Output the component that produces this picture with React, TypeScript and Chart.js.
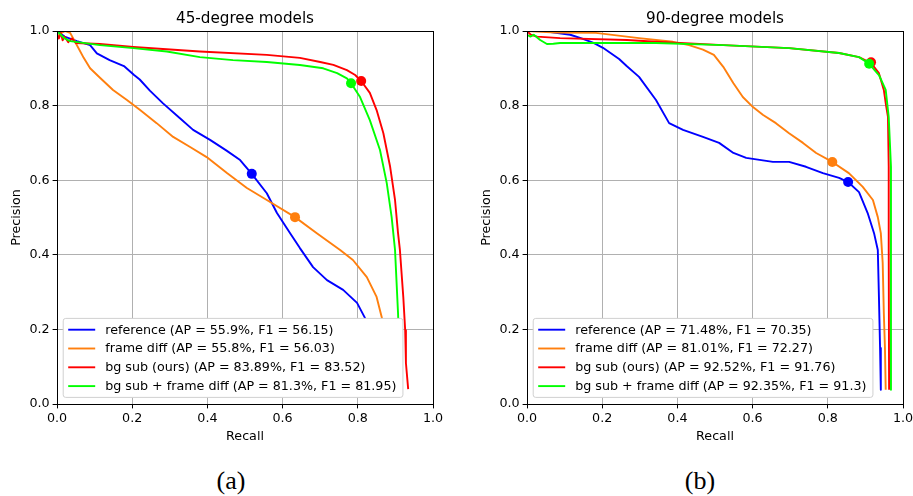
import React, { useEffect, useRef } from "react";
import { Chart, registerables } from "chart.js";

Chart.register(...registerables);

const FONT = "'DejaVu Sans', 'Liberation Sans', sans-serif";
const FS = 12.7;

const axisTicks = [0, 0.2, 0.4, 0.6, 0.8, 1.0];
const seriesColors = ["#0000ff", "#ff7f0e", "#ff0000", "#00ff00"];

// ---------- 45-degree models ----------
const title45 = "45-degree models";
const labels45 = [
  "reference (AP = 55.9%, F1 = 56.15)",
  "frame diff (AP = 55.8%, F1 = 56.03)",
  "bg sub (ours) (AP = 83.89%, F1 = 83.52)",
  "bg sub + frame diff (AP = 81.3%, F1 = 81.95)",
];
const ref45Recall = [0, 0.02, 0.053, 0.088, 0.106, 0.14, 0.178, 0.205, 0.22, 0.247, 0.282, 0.327, 0.362, 0.407, 0.45, 0.487, 0.518, 0.558, 0.585, 0.62, 0.646, 0.681, 0.718, 0.761, 0.798, 0.819, 0.835, 0.84];
const ref45Precision = [1.0, 0.985, 0.973, 0.962, 0.94, 0.922, 0.906, 0.882, 0.87, 0.84, 0.806, 0.766, 0.735, 0.708, 0.68, 0.654, 0.617, 0.565, 0.512, 0.458, 0.418, 0.367, 0.332, 0.306, 0.271, 0.231, 0.15, 0.04];
const ref45Best = [0.518, 0.617];

const fd45Recall = [0, 0.012, 0.022, 0.035, 0.053, 0.071, 0.088, 0.115, 0.149, 0.186, 0.221, 0.265, 0.309, 0.354, 0.398, 0.452, 0.505, 0.558, 0.633, 0.691, 0.753, 0.787, 0.824, 0.85, 0.864, 0.87, 0.875];
const fd45Precision = [0.985, 0.995, 1.0, 0.995, 0.962, 0.928, 0.9, 0.874, 0.842, 0.815, 0.788, 0.753, 0.716, 0.689, 0.662, 0.619, 0.579, 0.547, 0.501, 0.458, 0.413, 0.386, 0.34, 0.287, 0.231, 0.15, 0.04];
const fd45Best = [0.633, 0.501];

const bg45Recall = [0, 0.005, 0.01, 0.015, 0.02, 0.03, 0.04, 0.05, 0.114, 0.203, 0.38, 0.558, 0.646, 0.7, 0.735, 0.771, 0.793, 0.809, 0.832, 0.85, 0.868, 0.886, 0.899, 0.907, 0.912, 0.921, 0.926, 0.928, 0.934];
const bg45Precision = [0.99, 0.98, 0.995, 0.975, 0.985, 0.97, 0.98, 0.968, 0.965, 0.957, 0.945, 0.936, 0.928, 0.917, 0.909, 0.895, 0.882, 0.866, 0.834, 0.788, 0.726, 0.636, 0.547, 0.458, 0.413, 0.287, 0.198, 0.11, 0.04];
const bg45Best = [0.809, 0.866];

const bgfd45Recall = [0, 0.01, 0.02, 0.035, 0.114, 0.203, 0.292, 0.38, 0.468, 0.558, 0.646, 0.708, 0.745, 0.771, 0.782, 0.806, 0.832, 0.859, 0.877, 0.89, 0.899, 0.907, 0.91, 0.912];
const bgfd45Precision = [1.0, 0.99, 0.98, 0.973, 0.962, 0.954, 0.945, 0.93, 0.922, 0.917, 0.909, 0.9, 0.887, 0.873, 0.86, 0.823, 0.761, 0.681, 0.592, 0.501, 0.413, 0.244, 0.15, 0.04];
const bgfd45Best = [0.782, 0.86];

// ---------- 90-degree models ----------
const title90 = "90-degree models";
const labels90 = [
  "reference (AP = 71.48%, F1 = 70.35)",
  "frame diff (AP = 81.01%, F1 = 72.27)",
  "bg sub (ours) (AP = 92.52%, F1 = 91.76)",
  "bg sub + frame diff (AP = 92.35%, F1 = 91.3)",
];
const ref90Recall = [0, 0.044, 0.077, 0.115, 0.145, 0.177, 0.202, 0.245, 0.265, 0.298, 0.343, 0.378, 0.415, 0.468, 0.511, 0.549, 0.583, 0.654, 0.697, 0.742, 0.787, 0.83, 0.854, 0.883, 0.906, 0.923, 0.933, 0.936, 0.939, 0.941];
const ref90Precision = [1.0, 1.0, 0.995, 0.99, 0.98, 0.968, 0.955, 0.925, 0.906, 0.877, 0.815, 0.753, 0.735, 0.716, 0.7, 0.673, 0.66, 0.649, 0.649, 0.636, 0.619, 0.606, 0.595, 0.568, 0.512, 0.458, 0.413, 0.287, 0.15, 0.038];
const ref90Best = [0.854, 0.595];

const fd90Recall = [0, 0.077, 0.183, 0.298, 0.388, 0.431, 0.468, 0.497, 0.522, 0.549, 0.574, 0.601, 0.628, 0.662, 0.697, 0.734, 0.769, 0.812, 0.856, 0.893, 0.92, 0.933, 0.941, 0.946, 0.949, 0.952, 0.954];
const fd90Precision = [1.0, 0.996, 0.995, 0.981, 0.971, 0.962, 0.95, 0.936, 0.904, 0.86, 0.823, 0.796, 0.775, 0.753, 0.726, 0.7, 0.673, 0.649, 0.619, 0.582, 0.547, 0.501, 0.458, 0.378, 0.244, 0.15, 0.038];
const fd90Best = [0.812, 0.649];

const bg90Recall = [0, 0.01, 0.027, 0.088, 0.266, 0.343, 0.522, 0.697, 0.83, 0.883, 0.915, 0.936, 0.949, 0.955, 0.96, 0.962, 0.962, 0.963];
const bg90Precision = [1.0, 0.99, 0.985, 0.981, 0.976, 0.971, 0.962, 0.954, 0.941, 0.93, 0.914, 0.887, 0.842, 0.8, 0.77, 0.636, 0.413, 0.038];
const bg90Best = [0.915, 0.916];

const bgfd90Recall = [0, 0.009, 0.018, 0.035, 0.053, 0.07, 0.088, 0.165, 0.343, 0.522, 0.697, 0.83, 0.883, 0.91, 0.936, 0.954, 0.962, 0.968, 0.968];
const bgfd90Precision = [0.99, 0.985, 0.99, 0.976, 0.965, 0.966, 0.968, 0.968, 0.968, 0.962, 0.954, 0.941, 0.93, 0.912, 0.882, 0.842, 0.77, 0.636, 0.038];
const bgfd90Best = [0.91, 0.912];

type Series = { label: string; color: string; r: number[]; p: number[]; best: number[] };

const series45: Series[] = [
  { label: labels45[0], color: seriesColors[0], r: ref45Recall, p: ref45Precision, best: ref45Best },
  { label: labels45[1], color: seriesColors[1], r: fd45Recall, p: fd45Precision, best: fd45Best },
  { label: labels45[2], color: seriesColors[2], r: bg45Recall, p: bg45Precision, best: bg45Best },
  { label: labels45[3], color: seriesColors[3], r: bgfd45Recall, p: bgfd45Precision, best: bgfd45Best },
];
const series90: Series[] = [
  { label: labels90[0], color: seriesColors[0], r: ref90Recall, p: ref90Precision, best: ref90Best },
  { label: labels90[1], color: seriesColors[1], r: fd90Recall, p: fd90Precision, best: fd90Best },
  { label: labels90[2], color: seriesColors[2], r: bg90Recall, p: bg90Precision, best: bg90Best },
  { label: labels90[3], color: seriesColors[3], r: bgfd90Recall, p: bgfd90Precision, best: bgfd90Best },
];

function align(v: number) {
  return Math.round(v - 0.5) + 0.5;
}

function makeDecor(title: string, series: Series[]) {
  return {
    id: "decor",
    afterDatasetsDraw(chart: any) {
      const { ctx, chartArea: a } = chart;
      ctx.save();
      // spines
      ctx.strokeStyle = "#000";
      ctx.lineWidth = 1;
      ctx.strokeRect(align(a.left), align(a.top), align(a.right) - align(a.left), align(a.bottom) - align(a.top));

      // title
      ctx.fillStyle = "#000";
      ctx.font = `15.2px ${FONT}`;
      ctx.textAlign = "center";
      ctx.textBaseline = "alphabetic";
      ctx.fillText(title, (a.left + a.right) / 2, a.top - 7.6);

      // legend (lower left)
      ctx.font = `${FS}px ${FONT}`;
      let maxW = 0;
      series.forEach((s) => {
        maxW = Math.max(maxW, ctx.measureText(s.label).width);
      });
      const rowH = 18.8;
      const edgePad = 11.3;
      const bw = 42 + maxW + 6.5;
      const bh = rowH * (series.length - 1) + edgePad * 2;
      const bx = a.left + 6.2;
      const by = a.bottom - 6.6 - bh;
      const rad = 2.5;
      ctx.beginPath();
      ctx.moveTo(bx + rad, by);
      ctx.lineTo(bx + bw - rad, by);
      ctx.arcTo(bx + bw, by, bx + bw, by + rad, rad);
      ctx.lineTo(bx + bw, by + bh - rad);
      ctx.arcTo(bx + bw, by + bh, bx + bw - rad, by + bh, rad);
      ctx.lineTo(bx + rad, by + bh);
      ctx.arcTo(bx, by + bh, bx, by + bh - rad, rad);
      ctx.lineTo(bx, by + rad);
      ctx.arcTo(bx, by, bx + rad, by, rad);
      ctx.closePath();
      ctx.fillStyle = "#ffffff";
      ctx.fill();
      ctx.strokeStyle = "#d0d0d0";
      ctx.lineWidth = 1;
      ctx.stroke();

      series.forEach((s, i) => {
        const y = by + edgePad + i * rowH;
        ctx.strokeStyle = s.color;
        ctx.lineWidth = 1.9;
        ctx.beginPath();
        ctx.moveTo(bx + 5, y);
        ctx.lineTo(bx + 32, y);
        ctx.stroke();
        ctx.fillStyle = "#000";
        ctx.textAlign = "left";
        ctx.textBaseline = "middle";
        ctx.fillText(s.label, bx + 42, y + 0.5);
      });
      ctx.restore();
    },
  };
}

function PRChart(props: { title: string; series: Series[]; width: number; height: number; padLeft: number; padRight: number }) {
  const ref = useRef<HTMLCanvasElement>(null);
  useEffect(() => {
    const canvas = ref.current;
    if (!canvas) return;
    const { series } = props;
    const datasets: any[] = [];
    series.forEach((s, k) => {
      datasets.push({
        data: s.r.map((x, i) => ({ x, y: s.p[i] })),
        showLine: true,
        borderColor: s.color,
        backgroundColor: s.color,
        borderWidth: 1.9,
        pointRadius: 0,
        pointHoverRadius: 0,
        tension: 0,
        fill: false,
        borderJoinStyle: "round",
        order: 20 - 2 * k,
      });
      datasets.push({
        data: [{ x: s.best[0], y: s.best[1] }],
        showLine: false,
        pointRadius: 5,
        pointHoverRadius: 5,
        pointBorderWidth: 0,
        pointBackgroundColor: s.color,
        borderColor: s.color,
        order: 19 - 2 * k,
      });
    });
    const tickFont = { family: FONT, size: FS };
    const gridCfg = { color: "#b0b0b0", lineWidth: 1, tickColor: "#000", tickLength: 4.4, drawTicks: true };
    const chart = new Chart(canvas, {
      type: "scatter",
      data: { datasets },
      options: {
        animation: false,
        responsive: false,
        events: [],
        layout: { padding: { left: props.padLeft, right: props.padRight, top: 31, bottom: 0 } },
        plugins: { legend: { display: false }, title: { display: false }, tooltip: { enabled: false } },
        scales: {
          x: {
            type: "linear",
            min: 0,
            max: 1,
            afterBuildTicks: (s: any) => {
              s.ticks = axisTicks.map((v) => ({ value: v }));
            },
            afterFit: (s: any) => {
              s.height = 46;
            },
            ticks: { color: "#000", font: tickFont, padding: 3, maxRotation: 0, autoSkip: false, callback: (v: any) => Number(v).toFixed(1) },
            grid: gridCfg,
            border: { color: "#000", width: 1 },
            title: { display: true, text: "Recall", color: "#000", font: tickFont, padding: { top: 0, bottom: 5.5 } },
          },
          y: {
            type: "linear",
            min: 0,
            max: 1,
            afterBuildTicks: (s: any) => {
              s.ticks = axisTicks.map((v) => ({ value: v }));
            },
            afterFit: (s: any) => {
              s.width = 57;
            },
            ticks: { color: "#000", font: tickFont, padding: 3, autoSkip: false, callback: (v: any) => Number(v).toFixed(1) },
            grid: gridCfg,
            border: { color: "#000", width: 1 },
            title: { display: true, text: "Precision", color: "#000", font: tickFont, padding: { top: 9, bottom: 0 } },
          },
        },
      } as any,
      plugins: [makeDecor(props.title, props.series)],
    });
    return () => chart.destroy();
  }, []);
  return <canvas ref={ref} width={props.width} height={props.height} style={{ width: props.width, height: props.height, display: "block" }} />;
}

export default function App() {
  const captionStyle: React.CSSProperties = {
    position: "absolute",
    top: 466,
    width: 60,
    textAlign: "center",
    fontFamily: "'Liberation Serif', 'DejaVu Serif', serif",
    fontSize: 26,
    lineHeight: "30px",
    color: "#000",
  };
  return (
    <div style={{ position: "absolute", left: 0, top: 0, width: 913, height: 496, overflow: "hidden", background: "#fff" }}>
      <div style={{ position: "absolute", left: 0, top: 0 }}>
        <PRChart title={title45} series={series45} width={456} height={450} padLeft={0} padRight={23} />
      </div>
      <div style={{ position: "absolute", left: 456, top: 0 }}>
        <PRChart title={title90} series={series90} width={470} height={450} padLeft={14} padRight={23} />
      </div>
      <div style={{ ...captionStyle, left: 231 - 30 }}>(a)</div>
      <div style={{ ...captionStyle, left: 700 - 30 }}>(b)</div>
    </div>
  );
}
